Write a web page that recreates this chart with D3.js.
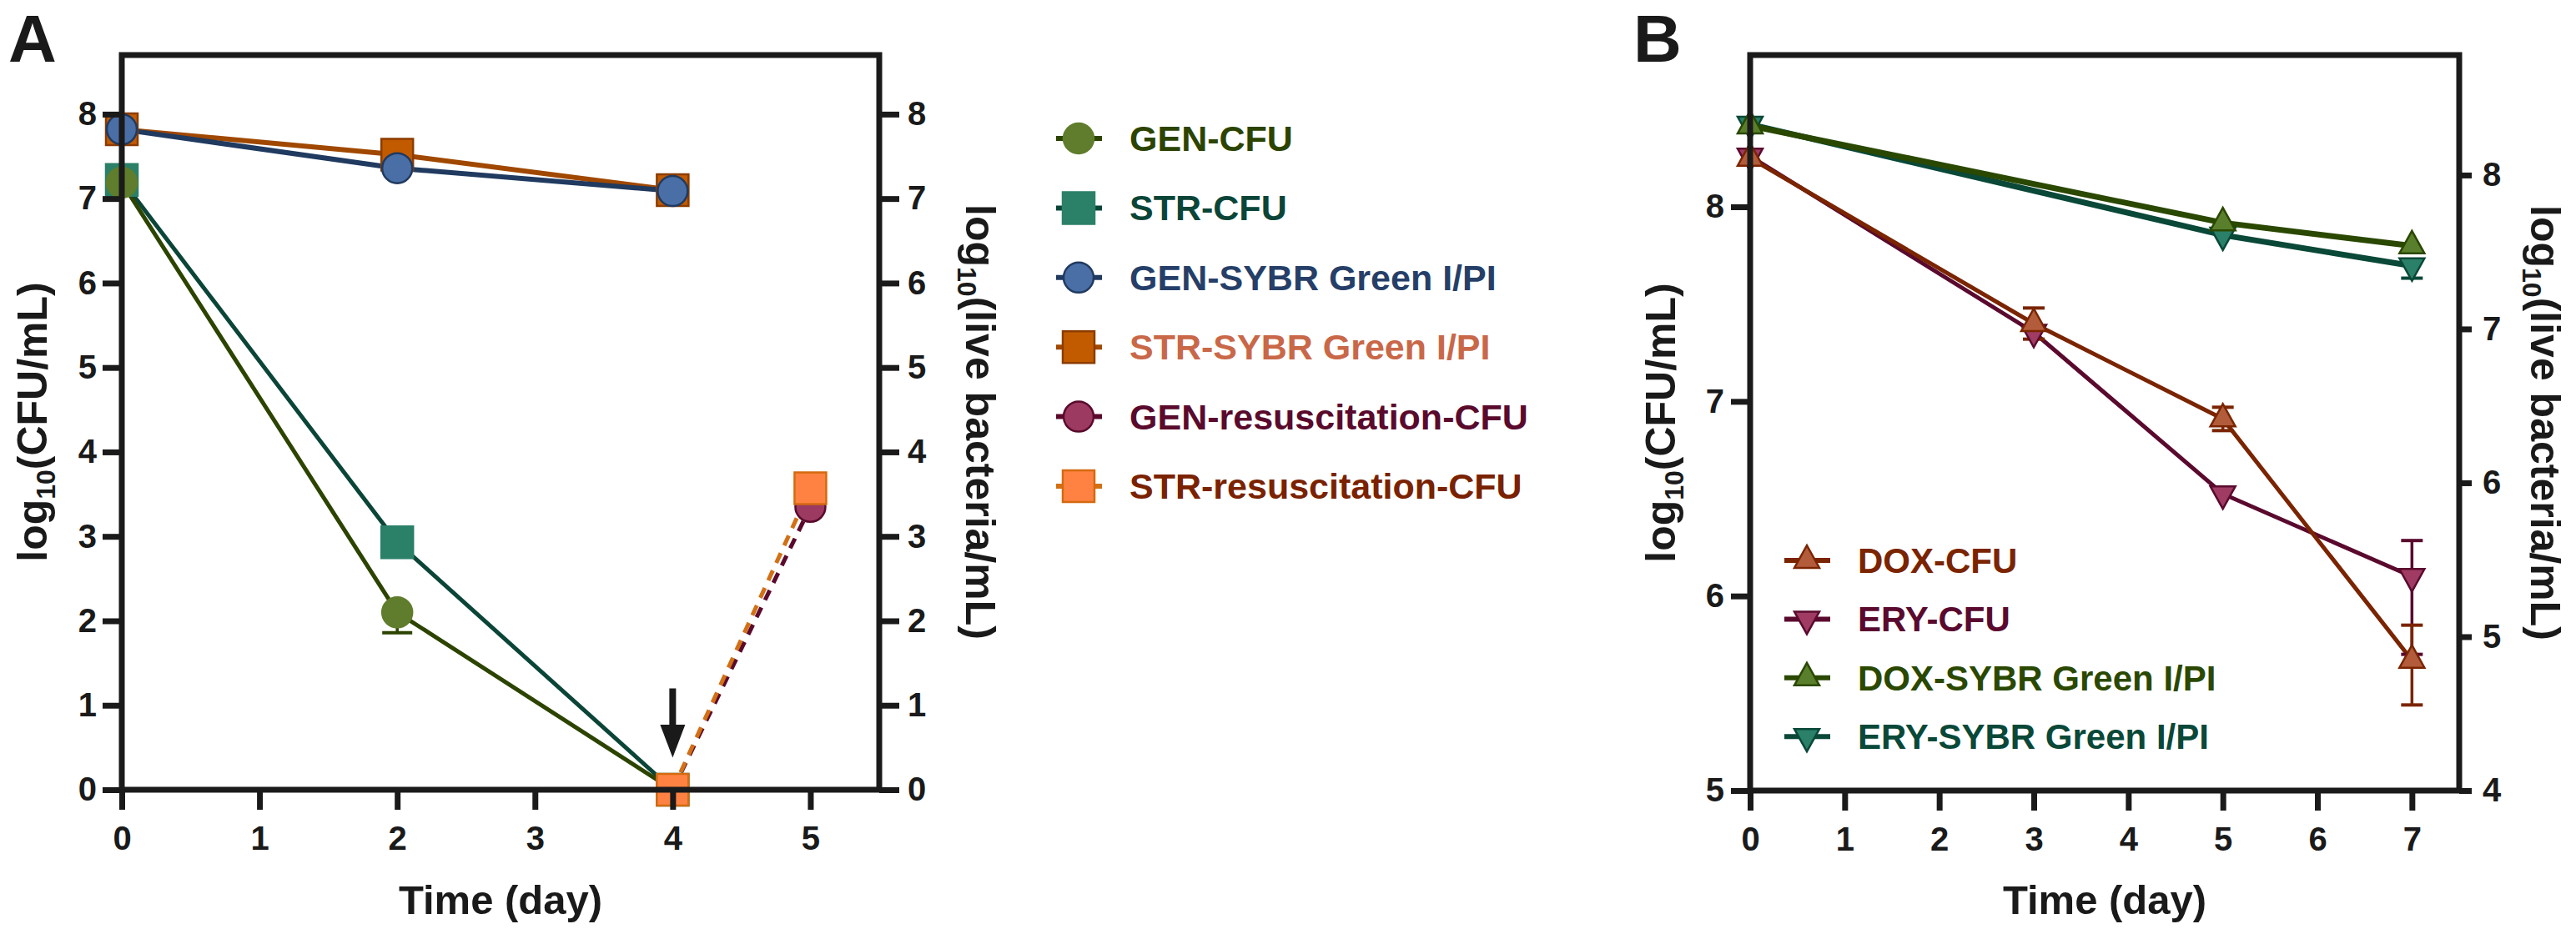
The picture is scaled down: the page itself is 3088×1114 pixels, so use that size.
<!DOCTYPE html>
<html>
<head>
<meta charset="utf-8">
<script src="https://cdn.jsdelivr.net/npm/d3@7"></script>
<style>
body{margin:0;background:#fff;}
</style>
</head>
<body>
<script>
// ---- panel A data (log10 values)
var daysA=[0,2,4];
var daysResus=[4,5];
var genCfu=[7.19,2.10,0];
var strCfu=[7.22,2.93,0];
var genSybr=[7.82,7.36,7.09];
var strSybr=[7.82,7.52,7.10];
var genResus=[0,3.35];
var strResus=[0,3.57];
var genCfuBar=[null,[1.86,2.10],null]; // [low,high] error ends
var strCfuBar=[null,[2.76,2.93],null];
var xTicksA=[0,1,2,3,4,5];
var yTicksA=[0,1,2,3,4,5,6,7,8];
var legendA=['GEN-CFU','STR-CFU','GEN-SYBR Green I/PI','STR-SYBR Green I/PI','GEN-resuscitation-CFU','STR-resuscitation-CFU'];
// ---- panel B data
var daysB=[0,3,5,7];
var daysSybrB=[0,5,7];
var doxCfu=[8.25,7.40,6.91,5.67];
var eryCfu=[8.26,7.355,6.525,6.10];
var doxSybr=[8.32,7.69,7.54]; // right axis
var erySybr=[8.33,7.61,7.41]; // right axis
var doxCfuBar=[null,[7.32,7.48],[6.85,6.97],[5.44,5.85]];
var eryCfuBar=[null,null,null,[5.70,6.285]];
var erySybrBar=[null,null,[7.33,7.41]];
var xTicksB=[0,1,2,3,4,5,6,7];
var yTicksBL=[5,6,7,8];
var yTicksBR=[4,5,6,7,8];
var legendB=['DOX-CFU','ERY-CFU','DOX-SYBR Green I/PI','ERY-SYBR Green I/PI'];

// constants
var wid=3088, hgh=1114;
var font='"Liberation Sans", Arial, Helvetica, sans-serif';
var ink='#1a1a1a';

var svg=d3.select('body').append('svg').attr('width',wid).attr('height',hgh)
  .attr('font-family',font).attr('font-weight','bold');

// scales
var xA=d3.scaleLinear().domain([0,5.5]).range([146,1054]);
var yA=d3.scaleLinear().domain([0,8.7]).range([947,66]);
var xB=d3.scaleLinear().domain([0,7.5]).range([2098,2948]);
var yBL=d3.scaleLinear().domain([5,8.78]).range([948,66]);
var yBR=d3.scaleLinear().domain([4,8.78]).range([948,66]);

function shape(type) { // marker path centred on the data point
 if (type==='circle') return d3.symbol().type(d3.symbolCircle).size(Math.PI*18*18)();
 if (type==='square') return 'M-19,-19H19V19H-19Z';
 if (type==='up') return 'M0,-18L15,9L-15,9Z';
 return 'M0,18L15,-9L-15,-9Z';
}

function drawLines(g,s) {
 var line=d3.line().x(function(d){return s.x(d[0]);}).y(function(d){return s.y(d[1]);});
 g.append('path').datum(d3.zip(s.days,s.vals)).attr('d',line)
  .attr('fill','none').attr('stroke',s.line).attr('stroke-width',s.lw)
  .attr('stroke-dasharray',s.dash||null);
}
function drawBars(g,s) {
 if (!s.bars) return;
 s.bars.forEach(function(b,i){
  if (!b) return;
  var cx=s.x(s.days[i]);
  g.append('line').attr('x1',cx).attr('x2',cx).attr('y1',s.y(b[0])).attr('y2',s.y(b[1]))
   .attr('stroke',s.line).attr('stroke-width',3.5);
  b.forEach(function(v){
   if (v===s.vals[i]) return;
   g.append('line').attr('x1',cx-s.cap).attr('x2',cx+s.cap).attr('y1',s.y(v)).attr('y2',s.y(v))
    .attr('stroke',s.line).attr('stroke-width',4);
  });
 });
}
function drawMarks(g,s) {
 g.selectAll(null).data(d3.zip(s.days,s.vals)).enter().append('path')
  .attr('d',shape(s.shape))
  .attr('transform',function(d){return 'translate('+s.x(d[0])+','+s.y(d[1])+')';})
  .attr('fill',s.fill).attr('stroke',s.edge).attr('stroke-width',2.5);
}

function addAxis(axis,tx,ty) {
 var a=svg.append('g').attr('transform','translate('+tx+','+ty+')').call(axis);
 a.select('.domain').remove();
 a.selectAll('.tick line').attr('stroke',ink).attr('stroke-width',7);
 a.selectAll('.tick text').attr('fill',ink).attr('font-size',40)
  .attr('font-family',font).attr('font-weight','bold');
}

function logTitle(x,y,rot,rest) {
 var t=svg.append('text').attr('transform','translate('+x+','+y+') rotate('+rot+')')
  .attr('text-anchor','middle').attr('font-size',50).attr('fill',ink);
 t.append('tspan').text('log');
 t.append('tspan').attr('font-size',32).attr('dy',10).text('10');
 t.append('tspan').attr('dy',-10).text(rest);
}

function legendRow(x,y,s,label,tcol,fs,tx) {
 svg.append('line').attr('x1',x-27).attr('x2',x+28).attr('y1',y).attr('y2',y)
  .attr('stroke',s.line).attr('stroke-width',6).attr('stroke-dasharray',s.dash||null);
 svg.append('path').attr('d',shape(s.shape)).attr('transform','translate('+x+','+y+')')
  .attr('fill',s.fill).attr('stroke',s.edge).attr('stroke-width',2.5);
 svg.append('text').attr('x',tx).attr('y',y+15).attr('font-size',fs).attr('fill',tcol).text(label);
}

// ---------------- panel A
var serA=[
 {days:daysA,vals:strSybr,shape:'square',fill:'#c25b00',edge:'#8c3c00',line:'#a04800',lw:6,text:'#c96848'},
 {days:daysA,vals:genSybr,shape:'circle',fill:'#4a6ea6',edge:'#203a60',line:'#203a60',lw:6,text:'#263f68'},
 {days:daysA,vals:strCfu,bars:strCfuBar,shape:'square',fill:'#2b8068',edge:'#2b8068',line:'#0b4538',lw:5,text:'#0b4538'},
 {days:daysA,vals:genCfu,bars:genCfuBar,shape:'circle',fill:'#5f7d2c',edge:'#5f7d2c',line:'#2c4400',lw:5,text:'#2c4400'},
 {days:daysResus,vals:genResus,shape:'circle',fill:'#9c3a62',edge:'#5a0a2c',line:'#5a0a2c',lw:5,dash:'13,10',text:'#5a0a2c'},
 {days:daysResus,vals:strResus,shape:'square',fill:'#ff8242',edge:'#d46a10',line:'#d27016',lw:5,dash:'13,10',text:'#7a2200'}
];
serA.forEach(function(s){s.x=xA; s.y=yA; s.cap=18;});
var gA=svg.append('g');
serA.forEach(function(s){drawLines(gA,s);});
serA.forEach(function(s){drawBars(gA,s);});
serA.forEach(function(s){drawMarks(gA,s);});

addAxis(d3.axisLeft(yA).tickValues(yTicksA).tickSize(23).tickSizeOuter(0).tickPadding(7).tickFormat(d3.format('d')),146,0);
addAxis(d3.axisRight(yA).tickValues(yTicksA).tickSize(24).tickSizeOuter(0).tickPadding(10).tickFormat(d3.format('d')),1054,0);
addAxis(d3.axisBottom(xA).tickValues(xTicksA).tickSize(24).tickSizeOuter(0).tickPadding(20).tickFormat(d3.format('d')),0,947);
svg.append('rect').attr('x',146).attr('y',66).attr('width',908).attr('height',881)
  .attr('fill','none').attr('stroke',ink).attr('stroke-width',7);

// arrow at day 4
svg.append('line').attr('x1',xA(4)).attr('x2',xA(4)).attr('y1',yA(1.2)).attr('y2',yA(0.75))
  .attr('stroke',ink).attr('stroke-width',8);
svg.append('path').attr('d','M'+(xA(4)-15)+','+yA(0.77)+'L'+(xA(4)+15)+','+yA(0.77)+'L'+xA(4)+','+yA(0.38)+'Z')
  .attr('fill',ink);

logTitle(56,506,-90,'(CFU/mL)');
logTitle(1158,506,90,'(live bacteria/mL)');
svg.append('text').attr('x',600).attr('y',1096).attr('text-anchor','middle').attr('font-size',49).attr('fill',ink).text('Time (day)');
svg.append('text').attr('x',10).attr('y',74).attr('font-size',80).attr('fill',ink).text('A');

var legOrderA=[3,2,1,0,4,5];
legOrderA.forEach(function(k,i){
 legendRow(1293,166+i*83.4,serA[k],legendA[i],serA[k].text,43,1354);
});

// ---------------- panel B
var serB=[
 {days:daysSybrB,vals:erySybr,bars:erySybrBar,y:yBR,shape:'down',fill:'#2a8068',edge:'#0a4838',line:'#0a4838',lw:7,text:'#0a4838'},
 {days:daysSybrB,vals:doxSybr,y:yBR,shape:'up',fill:'#5a7f2c',edge:'#2a4800',line:'#2a4800',lw:7,text:'#2a4800'},
 {days:daysB,vals:eryCfu,bars:eryCfuBar,y:yBL,shape:'down',fill:'#a03c64',edge:'#5a0a2e',line:'#5a0a2e',lw:5,text:'#5a0a2e'},
 {days:daysB,vals:doxCfu,bars:doxCfuBar,y:yBL,shape:'up',fill:'#b35c3c',edge:'#7a2400',line:'#7a2400',lw:5,text:'#7a2400'}
];
serB.forEach(function(s){s.x=xB; s.cap=13;});
var gB=svg.append('g');
serB.forEach(function(s){drawLines(gB,s);});
serB.forEach(function(s){drawBars(gB,s);});
serB.forEach(function(s){drawMarks(gB,s);});

addAxis(d3.axisLeft(yBL).tickValues(yTicksBL).tickSize(23).tickSizeOuter(0).tickPadding(8).tickFormat(d3.format('d')),2098,0);
addAxis(d3.axisRight(yBR).tickValues(yTicksBR).tickSize(15).tickSizeOuter(0).tickPadding(13).tickFormat(d3.format('d')),2948,0);
addAxis(d3.axisBottom(xB).tickValues(xTicksB).tickSize(24).tickSizeOuter(0).tickPadding(20).tickFormat(d3.format('d')),0,948);
svg.append('rect').attr('x',2098).attr('y',66).attr('width',850).attr('height',882)
  .attr('fill','none').attr('stroke',ink).attr('stroke-width',7);

logTitle(2008,507,-90,'(CFU/mL)');
logTitle(3034,507,90,'(live bacteria/mL)');
svg.append('text').attr('x',2523).attr('y',1096).attr('text-anchor','middle').attr('font-size',49).attr('fill',ink).text('Time (day)');
svg.append('text').attr('x',1958).attr('y',74).attr('font-size',80).attr('fill',ink).text('B');

var legOrderB=[3,2,1,0];
legOrderB.forEach(function(k,i){
 legendRow(2166,672+i*70.4,serB[k],legendB[i],serB[k].text,42,2227);
});
</script>
</body>
</html>
